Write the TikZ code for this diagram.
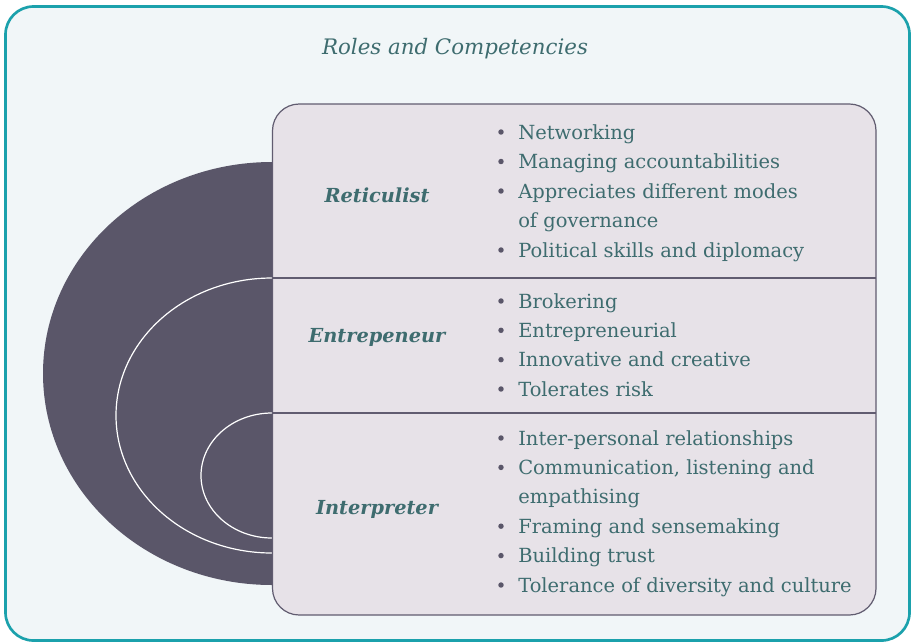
\documentclass[tikz,border=0pt]{standalone}
\usepackage{fontspec}
\setmainfont{DejaVu Serif}
\definecolor{framec}{HTML}{1BA1AC}
\definecolor{bgc}{HTML}{F1F6F8}
\definecolor{boxfill}{HTML}{E7E2E8}
\definecolor{boxline}{HTML}{615C70}
\definecolor{darkc}{HTML}{5A5669}
\definecolor{textc}{HTML}{3E6C6F}
\tikzset{
  itm/.style={anchor=base west, inner sep=0pt, text=textc, font=\fontsize{14.6}{17}\selectfont},
  bul/.style={circle, fill=darkc, inner sep=0pt, minimum size=4.1pt},
  role/.style={anchor=base, inner sep=0pt, text=textc, font=\fontsize{14.5}{17}\selectfont\bfseries\itshape},
  ring/.style={draw=white, line width=0.9pt},
}
\newcommand\bitem[3]{\node[bul] (#1b) at (501,#2-7) {}; \node[itm] (#1) at (518,#2) {#3};}
\newcommand\bcont[3]{\node[itm] (#1) at (518,#2) {#3};}
\begin{document}
\begin{tikzpicture}[x=0.75pt,y=-0.75pt]
\useasboundingbox (0,0) rectangle (912,643);
\fill[white] (0,0) rectangle (912,643);
\draw[draw=framec, fill=bgc, rounded corners=21pt, line width=2pt] (5.5,6.5) rectangle (909.5,640.5);
\node[anchor=base, inner sep=0pt, text=textc, font=\fontsize{16}{19}\selectfont\itshape] (title) at (455,54) {Roles and Competencies};
% nested half ellipses
\fill[darkc] (272,373.5) ellipse [x radius=229, y radius=211.5];
\draw[ring] (272,415.5) ellipse [x radius=156, y radius=137.5];
\draw[ring] (272,475.5) ellipse [x radius=71, y radius=62.5];
% main box
\draw[draw=boxline, fill=boxfill, rounded corners=20pt, line width=0.9pt] (272.5,104) rectangle (876,615);
\coordinate (d1l) at (272.5,278); \coordinate (d1r) at (876,278);
\coordinate (d2l) at (272.5,413); \coordinate (d2r) at (876,413);
\draw[boxline, line width=0.9pt] (d1l) -- (d1r);
\draw[boxline, line width=0.9pt] (d2l) -- (d2r);
% role labels
\node[role] (ret) at (377,202) {Reticulist};
\node[role] (ent) at (377,342) {Entrepeneur};
\node[role] (int) at (377,514) {Interpreter};
% items
\bitem{r1}{139}{Networking}
\bitem{r2}{168.5}{Managing accountabilities}
\bitem{r3}{198}{Appreciates different modes}
\bcont{r3b}{227.5}{of governance}
\bitem{r4}{257}{Political skills and diplomacy}
\bitem{e1}{308}{Brokering}
\bitem{e2}{337.3}{Entrepreneurial}
\bitem{e3}{366.7}{Innovative and creative}
\bitem{e4}{396}{Tolerates risk}
\bitem{i1}{445}{Inter-personal relationships}
\bitem{i2}{474.4}{Communication, listening and}
\bcont{i2b}{503.8}{empathising}
\bitem{i3}{533.2}{Framing and sensemaking}
\bitem{i4}{562.6}{Building trust}
\bitem{i5}{592}{Tolerance of diversity and culture}
\end{tikzpicture}
\end{document}
